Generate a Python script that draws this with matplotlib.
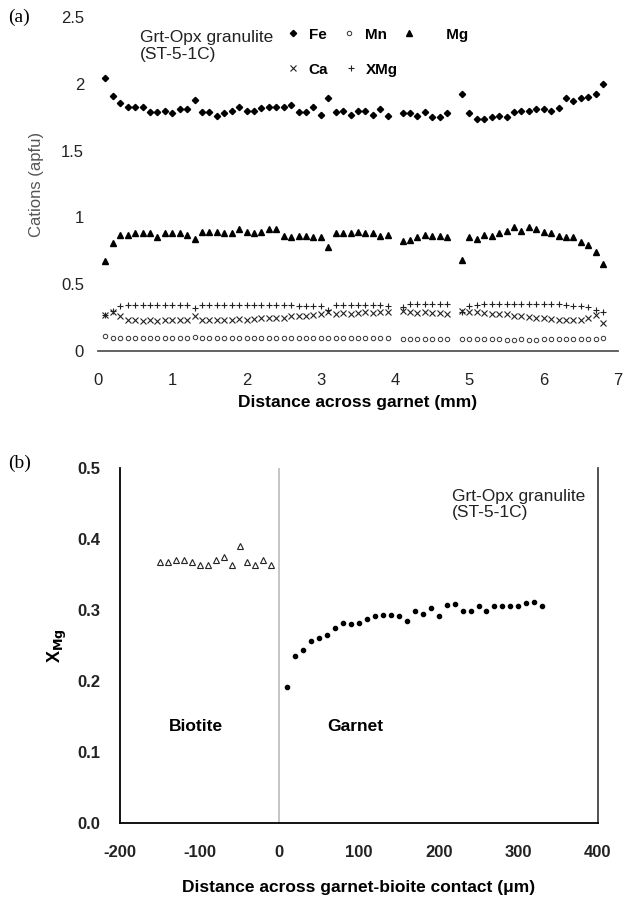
import numpy as np
import matplotlib
matplotlib.use("Agg")
import matplotlib.pyplot as plt
from matplotlib.lines import Line2D

plt.rcParams['font.family'] = ['Liberation Sans', 'DejaVu Sans']
plt.rcParams['axes.unicode_minus'] = False

# ---- panel (a): cation profile across garnet ----
dist_mm = [0.1, 0.2, 0.3, 0.4, 0.5, 0.6, 0.7, 0.8, 0.9, 1.0,
           1.1, 1.2, 1.3, 1.4, 1.5, 1.6, 1.7, 1.8, 1.9, 2.0,
           2.1, 2.2, 2.3, 2.4, 2.5, 2.6, 2.7, 2.8, 2.9, 3.0,
           3.1, 3.2, 3.3, 3.4, 3.5, 3.6, 3.7, 3.8, 3.9,
           4.1, 4.2, 4.3, 4.4, 4.5, 4.6, 4.7,
           4.9, 5.0, 5.1, 5.2, 5.3, 5.4, 5.5, 5.6, 5.7, 5.8,
           5.9, 6.0, 6.1, 6.2, 6.3, 6.4, 6.5, 6.6, 6.7, 6.8]

fe = [2.04, 1.91, 1.86, 1.83, 1.83, 1.83, 1.79, 1.79, 1.80, 1.78,
      1.81, 1.81, 1.88, 1.79, 1.79, 1.76, 1.78, 1.80, 1.83, 1.80,
      1.80, 1.82, 1.83, 1.83, 1.83, 1.84, 1.79, 1.79, 1.83, 1.77,
      1.89, 1.79, 1.80, 1.77, 1.80, 1.80, 1.77, 1.81, 1.76,
      1.78, 1.78, 1.76, 1.79, 1.75, 1.75, 1.78,
      1.92, 1.78, 1.74, 1.74, 1.75, 1.76, 1.75, 1.79, 1.80, 1.80,
      1.81, 1.81, 1.80, 1.82, 1.89, 1.87, 1.89, 1.90, 1.92, 2.00]

mg = [0.67, 0.81, 0.865, 0.865, 0.88, 0.88, 0.88, 0.85, 0.88, 0.88,
      0.88, 0.87, 0.84, 0.89, 0.89, 0.89, 0.88, 0.88, 0.91, 0.89,
      0.88, 0.89, 0.91, 0.91, 0.86, 0.85, 0.86, 0.86, 0.85, 0.85,
      0.78, 0.88, 0.88, 0.88, 0.89, 0.88, 0.88, 0.86, 0.865,
      0.825, 0.83, 0.85, 0.87, 0.86, 0.86, 0.85,
      0.68, 0.85, 0.84, 0.865, 0.86, 0.88, 0.90, 0.93, 0.90, 0.925,
      0.91, 0.89, 0.88, 0.86, 0.85, 0.85, 0.815, 0.795, 0.74, 0.65]

xmg = [0.27, 0.30, 0.335, 0.345, 0.345, 0.345, 0.345, 0.345, 0.345, 0.345,
       0.345, 0.345, 0.32, 0.345, 0.345, 0.345, 0.345, 0.345, 0.345, 0.345,
       0.345, 0.345, 0.345, 0.345, 0.345, 0.345, 0.335, 0.335, 0.335, 0.335,
       0.31, 0.345, 0.345, 0.345, 0.345, 0.345, 0.345, 0.345, 0.34,
       0.33, 0.35, 0.35, 0.35, 0.35, 0.35, 0.35,
       0.29, 0.335, 0.345, 0.35, 0.355, 0.355, 0.355, 0.355, 0.355, 0.355,
       0.355, 0.35, 0.35, 0.35, 0.345, 0.34, 0.34, 0.33, 0.31, 0.29]

ca = [0.27, 0.29, 0.26, 0.23, 0.23, 0.225, 0.23, 0.225, 0.23, 0.23,
      0.23, 0.23, 0.26, 0.235, 0.23, 0.235, 0.235, 0.235, 0.24, 0.235,
      0.24, 0.245, 0.245, 0.25, 0.25, 0.26, 0.26, 0.265, 0.27, 0.275,
      0.29, 0.28, 0.285, 0.28, 0.285, 0.29, 0.285, 0.29, 0.29,
      0.30, 0.29, 0.285, 0.29, 0.285, 0.285, 0.28,
      0.30, 0.29, 0.29, 0.285, 0.28, 0.275, 0.275, 0.265, 0.26, 0.255,
      0.25, 0.245, 0.24, 0.235, 0.235, 0.23, 0.235, 0.25, 0.27, 0.21]

mn = [0.11, 0.095, 0.095, 0.095, 0.095, 0.095, 0.095, 0.095, 0.095, 0.095,
      0.095, 0.095, 0.105, 0.095, 0.095, 0.095, 0.095, 0.095, 0.095, 0.095,
      0.095, 0.095, 0.10, 0.10, 0.10, 0.10, 0.10, 0.10, 0.10, 0.10,
      0.10, 0.10, 0.10, 0.10, 0.10, 0.10, 0.10, 0.10, 0.10,
      0.09, 0.09, 0.09, 0.09, 0.09, 0.09, 0.09,
      0.09, 0.09, 0.09, 0.09, 0.09, 0.09, 0.085, 0.085, 0.09, 0.085,
      0.085, 0.09, 0.09, 0.09, 0.09, 0.09, 0.09, 0.09, 0.09, 0.10]

# ---- panel (b): XMg across garnet-biotite contact ----
bt_dist = [-150, -140, -130, -120, -110, -100, -90, -80, -70, -60,
           -50, -40, -30, -20, -10]
bt_xmg = [0.368, 0.368, 0.370, 0.370, 0.368, 0.364, 0.364, 0.370, 0.374, 0.363,
          0.390, 0.367, 0.363, 0.371, 0.363]

grt_dist = [10, 20, 30, 40, 50, 60, 70, 80, 90, 100,
            110, 120, 130, 140, 150, 160, 170, 180, 190, 200,
            210, 220, 230, 240, 250, 260, 270, 280, 290, 300,
            310, 320, 330]
grt_xmg = [0.192, 0.235, 0.243, 0.257, 0.260, 0.265, 0.275, 0.281, 0.280, 0.281,
           0.288, 0.291, 0.293, 0.293, 0.291, 0.284, 0.298, 0.295, 0.303, 0.291,
           0.307, 0.308, 0.299, 0.299, 0.305, 0.299, 0.305, 0.305, 0.305, 0.305,
           0.310, 0.311, 0.305]

W, H = 626, 898
fig = plt.figure(figsize=(W / 100, H / 100), dpi=100)

def fx(px):
    return px / W

def fy(py):
    return 1 - py / H

# marker styles shared by plot and legend
st_fe = dict(marker='D', color='black', ms=3.2, ls='none')
st_mn = dict(marker='o', mfc='white', mec='#333333', mew=0.7, ms=3.2, ls='none')
st_mg = dict(marker='^', color='black', ms=4.2, ls='none')
st_ca = dict(marker='x', color='#222222', mew=0.8, ms=4.0, ls='none')
st_xmg = dict(marker='+', color='#222222', mew=0.8, ms=5.0, ls='none')

# panel a
ax1 = fig.add_axes([fx(98), fy(351), fx(618) - fx(98), fy(17) - fy(351)])
ax1.plot(dist_mm, fe, **st_fe)
ax1.plot(dist_mm, mn, **st_mn)
ax1.plot(dist_mm, mg, **st_mg)
ax1.plot(dist_mm, ca, **st_ca)
ax1.plot(dist_mm, xmg, **st_xmg)
ax1.set_xlim(0, 7)
ax1.set_ylim(0, 2.5)
ax1.set_xticks(range(0, 8))
ax1.set_yticks([0, 0.5, 1, 1.5, 2, 2.5])
ax1.set_yticklabels(['0', '0.5', '1', '1.5', '2', '2.5'])
for s in ['top', 'right', 'left']:
    ax1.spines[s].set_visible(False)
ax1.spines['bottom'].set_color('#555555')
ax1.spines['bottom'].set_linewidth(1.3)
ax1.tick_params(length=0, labelsize=12, colors='#222222')
ax1.tick_params(axis='x', pad=16)
ax1.tick_params(axis='y', pad=10)
ax1.set_xlabel('Distance across garnet (mm)', fontsize=12.5, fontweight='bold', labelpad=5)
ax1.set_ylabel('Cations (apfu)', fontsize=12, color='#555555', labelpad=12)
ax1.text(0.08, 0.96, 'Grt-Opx granulite\n(ST-5-1C)', transform=ax1.transAxes,
         fontsize=12.5, va='top', ha='left', linespacing=1.1, color='#222222')

leg_kw = dict(frameon=False, loc='upper left', bbox_transform=fig.transFigure,
              prop={'weight': 'bold', 'size': 11}, handlelength=1.0,
              handletextpad=0.5, columnspacing=1.0, borderpad=0)
leg1 = ax1.legend([Line2D([], [], **st_fe), Line2D([], [], **st_mn), Line2D([], [], **st_mg)],
                  ['Fe', 'Mn', '     Mg'], ncol=3, bbox_to_anchor=(fx(278), fy(20)), **leg_kw)
ax1.add_artist(leg1)
ax1.legend([Line2D([], [], **st_ca), Line2D([], [], **st_xmg)],
           ['Ca', 'XMg'], ncol=2, bbox_to_anchor=(fx(278), fy(55)), **leg_kw)

fig.text(fx(8), fy(17), '(a)', fontsize=14, family='Liberation Serif', va='center')

# panel b
ax2 = fig.add_axes([fx(120), fy(823), fx(598) - fx(120), fy(468) - fy(823)])
ax2.plot(bt_dist, bt_xmg, '^', mfc='white', mec='#222222', mew=0.8, ms=4.5, ls='none')
ax2.plot(grt_dist, grt_xmg, 'o', color='black', ms=3.0, ls='none')
ax2.axvline(0, color='#bbbbbb', lw=1.2)
ax2.set_xlim(-200, 400)
ax2.set_ylim(0, 0.5)
ax2.set_xticks([-200, -100, 0, 100, 200, 300, 400])
ax2.set_yticks([0, 0.1, 0.2, 0.3, 0.4, 0.5])
ax2.set_yticklabels(['0.0', '0.1', '0.2', '0.3', '0.4', '0.5'])
ax2.spines['top'].set_visible(False)
ax2.spines['left'].set_linewidth(1.3)
ax2.spines['bottom'].set_linewidth(1.3)
ax2.spines['right'].set_color('#444444')
ax2.spines['right'].set_linewidth(1.3)
ax2.tick_params(length=0, labelsize=12, colors='#222222')
ax2.tick_params(axis='x', pad=16)
ax2.tick_params(axis='y', pad=14)
for lab in ax2.get_xticklabels() + ax2.get_yticklabels():
    lab.set_fontweight('bold')
ax2.set_xlabel('Distance across garnet-bioite contact (\u03bcm)', fontsize=12.5,
               fontweight='bold', labelpad=14)
ax2.set_ylabel(r'X$_{\mathbf{Mg}}$', fontsize=13, fontweight='bold', labelpad=6)
ax2.text(-105, 0.136, 'Biotite', fontsize=12.5, fontweight='bold', ha='center', va='center')
ax2.text(95, 0.136, 'Garnet', fontsize=12.5, fontweight='bold', ha='center', va='center')
ax2.text(217, 0.47, 'Grt-Opx granulite\n(ST-5-1C)', fontsize=12.5, ha='left', va='top',
         linespacing=1.1, color='#222222')

fig.text(fx(8), fy(463), '(b)', fontsize=14, family='Liberation Serif', va='center')

fig.savefig('out.png', dpi=100)
